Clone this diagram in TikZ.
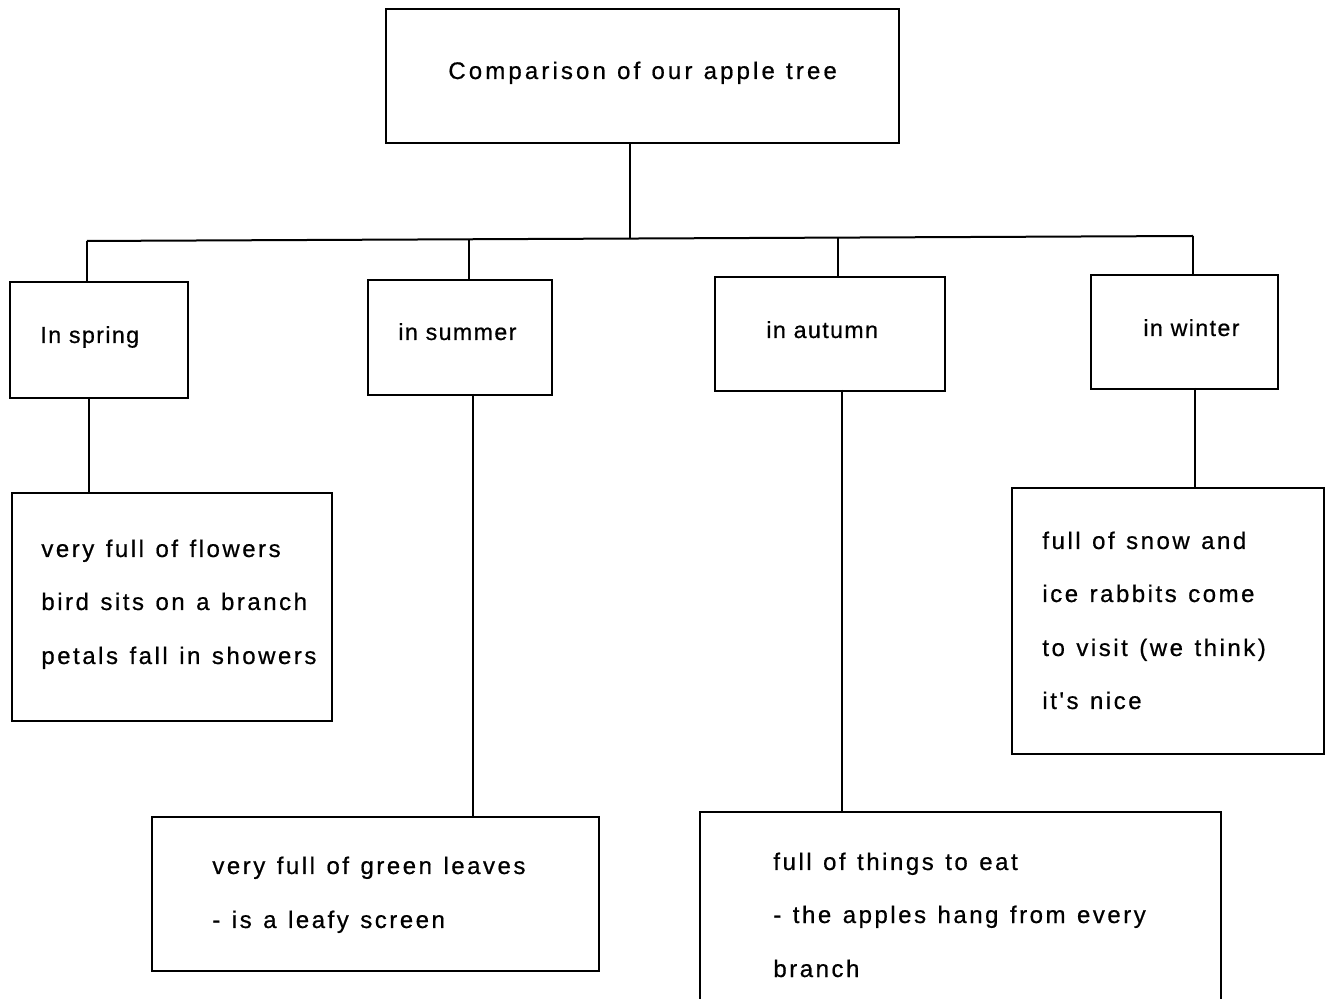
\documentclass[tikz,border=0pt]{standalone}
\usepackage{fontspec}
\setmainfont{Liberation Sans}
\newfontfamily\labfont{Liberation Sans}[LetterSpace=10.5,WordSpace=1.25,FakeBold=0.6]
\newfontfamily\smallfont{Liberation Sans}[LetterSpace=6,FakeBold=0.6]
\newfontfamily\titfont{Liberation Sans}[LetterSpace=13,WordSpace=1.15,FakeBold=0.6]
\begin{document}
\begin{tikzpicture}[x=0.5pt,y=-0.5pt,
  box/.style={draw=black, line width=1pt, rectangle, inner sep=0pt, anchor=north west},
  txt/.style={anchor=base west, inner sep=0pt, font=\labfont\fontsize{12pt}{14pt}\selectfont},
  lbl/.style={anchor=base west, inner sep=0pt, font=\smallfont\fontsize{11.6pt}{14pt}\selectfont},
  tit/.style={anchor=base west, inner sep=0pt, font=\titfont\fontsize{12pt}{14pt}\selectfont},
  conn/.style={line width=1pt}]
\clip (0,0) rectangle (1329,999);
\fill[white] (0,0) rectangle (1329,999);
% boxes
\node[box, minimum width=256.5pt, minimum height=67pt] (top) at (385,8) {};
\node[box, minimum width=89pt, minimum height=58pt] (spring) at (9,281) {};
\node[box, minimum width=92pt, minimum height=57.5pt] (summer) at (367,279) {};
\node[box, minimum width=115pt, minimum height=57pt] (autumn) at (714,276) {};
\node[box, minimum width=93.5pt, minimum height=57pt] (winter) at (1090,274) {};
\node[box, minimum width=160pt, minimum height=114pt] (springd) at (11,492) {};
\node[box, minimum width=223.5pt, minimum height=77pt] (summerd) at (151,816) {};
\node[box, minimum width=260.5pt, minimum height=110pt] (autumnd) at (699,811) {};
\node[box, minimum width=156pt, minimum height=133pt] (winterd) at (1011,487) {};
% texts
\node[tit] (ttop) at (448,79) {Comparison of our apple tree};
\node[lbl] (tspring) at (40,343) {In spring};
\node[lbl] (tsummer) at (398,340) {in summer};
\node[lbl] (tautumn) at (766,338) {in autumn};
\node[lbl] (twinter) at (1143,336) {in winter};
\node[txt] (ts1) at (41,557) {very full of flowers};
\node[txt] (ts2) at (41,610) {bird sits on a branch};
\node[txt] (ts3) at (41,664) {petals fall in showers};
\node[txt] (tm1) at (212,874) {very full of green leaves};
\node[txt] (tm2) at (212,928) {- is a leafy screen};
\node[txt] (ta1) at (773,870) {full of things to eat};
\node[txt] (ta2) at (773,923) {- the apples hang from every};
\node[txt] (ta3) at (773,977) {branch};
\node[txt] (tw1) at (1042,549) {full of snow and};
\node[txt] (tw2) at (1042,602) {ice rabbits come};
\node[txt] (tw3) at (1042,656) {to visit (we think)};
\node[txt] (tw4) at (1042,709) {it's nice};
% connectors
\coordinate (hub) at (630,239);
\coordinate (hl) at (87,241);
\coordinate (hsu) at (469,240);
\coordinate (hau) at (838,238);
\coordinate (hr) at (1193,236);
\draw[conn] (hub |- top.south) -- (hub);
\draw[conn] (hl) -- (hr);
\draw[conn] (hl) -- (hl |- spring.north);
\draw[conn] (hsu) -- (hsu |- summer.north);
\draw[conn] (hau) -- (hau |- autumn.north);
\draw[conn] (hr) -- (hr |- winter.north);
\coordinate (cs) at (89,397);
\draw[conn] (cs) -- (cs |- springd.north);
\coordinate (cm) at (473,394);
\draw[conn] (cm) -- (cm |- summerd.north);
\coordinate (ca) at (842,390);
\draw[conn] (ca) -- (ca |- autumnd.north);
\coordinate (cw) at (1195,388);
\draw[conn] (cw) -- (cw |- winterd.north);
\end{tikzpicture}
\end{document}
